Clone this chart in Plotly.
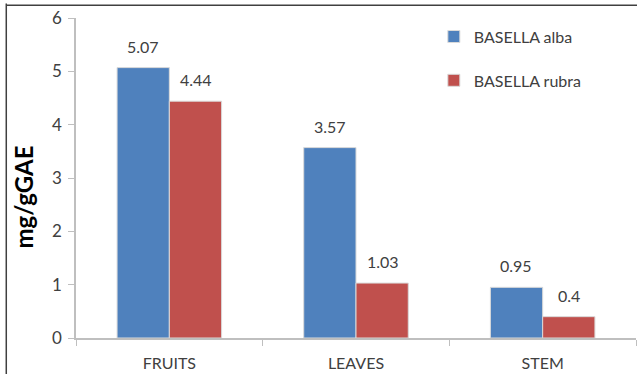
import plotly.graph_objects as go

# Total phenolic content by plant part
categories = ["FRUITS", "LEAVES", "STEM"]
alba = [5.07, 3.57, 0.95]
rubra = [4.44, 1.03, 0.4]
series_names = ["BASELLA alba", "BASELLA rubra"]
y_ticks = [0, 1, 2, 3, 4, 5, 6]

FONT = "Lato"
TEXT = "#404040"
BLUE = "#4F81BD"
RED = "#C0504D"

fig = go.Figure()
for name, vals, col in ((series_names[0], alba, BLUE),
                        (series_names[1], rubra, RED)):
    fig.add_trace(go.Bar(
        x=categories, y=vals, name=name, legendgroup=name,
        marker=dict(color=col, line=dict(color="#DADADA", width=1)),
    ))

# value labels above each bar
shift = 26.5
for vals, xs in ((alba, -shift), (rubra, shift)):
    for c, v in zip(categories, vals):
        fig.add_annotation(x=c, y=v, text=f"{v:g}", xshift=xs, yshift=10,
                           yanchor="bottom", showarrow=False,
                           font=dict(family=FONT, size=16, color=TEXT))

# y-axis title
fig.add_annotation(xref="paper", yref="paper", x=-0.094, y=0.44,
                   xanchor="center", yanchor="middle", showarrow=False,
                   text="<b>mg/gGAE</b>", textangle=-90,
                   font=dict(family=FONT, size=24, color="#000000"))

# chart frame (left and top edges)
fig.add_shape(type="line", xref="paper", yref="paper",
              x0=-0.1245, x1=-0.1245, y0=-0.2, y1=1.045,
              line=dict(color="#404040", width=1.5))
fig.add_shape(type="line", xref="paper", yref="paper",
              x0=-0.1245, x1=1.01, y0=1.04, y1=1.04,
              line=dict(color="#404040", width=1.5))

fig.update_layout(
    width=637, height=374,
    margin=dict(l=76, r=1, t=18, b=36),
    paper_bgcolor="white", plot_bgcolor="white",
    barmode="group", bargap=0.44, bargroupgap=0,
    font=dict(family=FONT, size=16, color=TEXT),
    legend=dict(x=0.639, y=0.995, xanchor="left", yanchor="top",
                tracegroupgap=20, font=dict(family=FONT, size=16, color=TEXT),
                bgcolor="rgba(0,0,0,0)"),
    xaxis=dict(showline=True, linecolor="#BFBFBF", linewidth=1.5,
               ticks="outside", tickson="boundaries", ticklen=6,
               tickcolor="#BFBFBF", showgrid=False, ticklabelstandoff=10,
               tickfont=dict(family=FONT, size=16, color=TEXT)),
    yaxis=dict(range=[0, 6], tickvals=y_ticks, showline=True,
               linecolor="#BFBFBF", linewidth=1.5, ticks="outside",
               ticklen=6, tickcolor="#BFBFBF", showgrid=False,
               zeroline=False, ticklabelstandoff=3,
               tickfont=dict(family=FONT, size=17, color=TEXT)),
)

fig.write_html("out.html")
